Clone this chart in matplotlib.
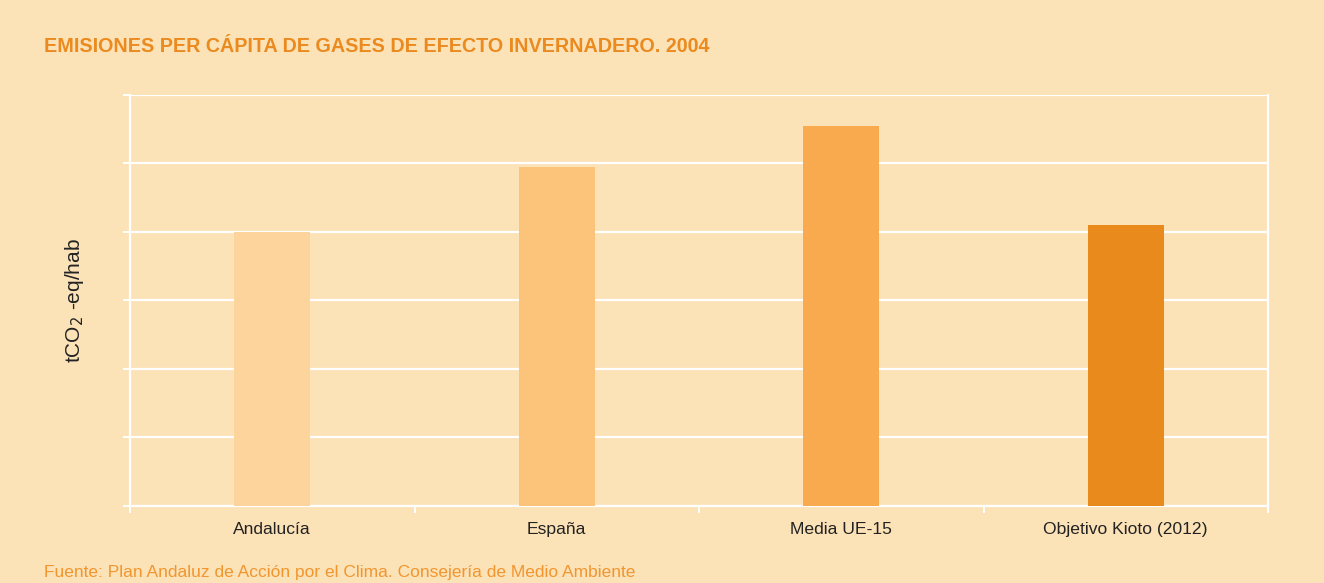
import matplotlib
matplotlib.use("Agg")
import matplotlib.pyplot as plt
from matplotlib import font_manager as fm

categories = ["Andalucía", "España", "Media UE-15", "Objetivo Kioto (2012)"]
values = [8.0, 9.9, 11.1, 8.2]
bar_colors = ["#FDD49B", "#FCC37B", "#F9AA4F", "#E98A1C"]
title = "EMISIONES PER CÁPITA DE GASES DE EFECTO INVERNADERO. 2004"
ylabel = "tCO$_2$ -eq/hab"
source = "Fuente: Plan Andaluz de Acción por el Clima. Consejería de Medio Ambiente"

names = {f.name for f in fm.fontManager.ttflist}
narrow = "Liberation Sans Narrow" if "Liberation Sans Narrow" in names else "Liberation Sans"

bg = "#FCE2B7"
fig = plt.figure(figsize=(13.24, 5.83), dpi=100, facecolor=bg)
ax = fig.add_axes([130/1324, 1-505.5/583, (1268-130)/1324, (505.5-95)/583])
ax.set_facecolor(bg)

x = list(range(len(categories)))
ax.bar(x, values, width=0.268, color=bar_colors, zorder=3)
ax.set_xlim(-0.5, len(categories)-0.5)
ax.set_ylim(0, 12)
ax.set_yticks([0, 2, 4, 6, 8, 10, 12])
ax.set_yticklabels([])
ax.yaxis.grid(True, color="white", linewidth=1.6, zorder=1)
ax.tick_params(axis="y", colors="white", length=5, width=1.4)
ax.set_xticks(x)
ax.set_xticklabels(categories, fontsize=12.6, fontfamily=narrow, color="#222222")
ax.tick_params(axis="x", length=0, pad=12)
for b in [-0.5, 0.5, 1.5, 2.5, 3.5]:
    ax.plot([b, b], [0, -0.2], color="white", lw=1.4, clip_on=False, zorder=4)
for s in ["left", "right", "bottom"]:
    ax.spines[s].set_color("white")
    ax.spines[s].set_linewidth(1.6)
ax.spines["top"].set_visible(False)

ax.set_ylabel(ylabel, fontsize=15, fontfamily="Liberation Sans", color="#222222", labelpad=23)

fig.text(44/1324, 1-37/583, title, fontsize=14.2, fontweight="bold", fontfamily=narrow,
         color="#EA8A1F", ha="left", va="top")
fig.text(44/1324, 1-577/583, source, fontsize=12.5, fontfamily=narrow,
         color="#F1962F", ha="left", va="baseline")

fig.savefig("out.png", dpi=100, facecolor=bg)
